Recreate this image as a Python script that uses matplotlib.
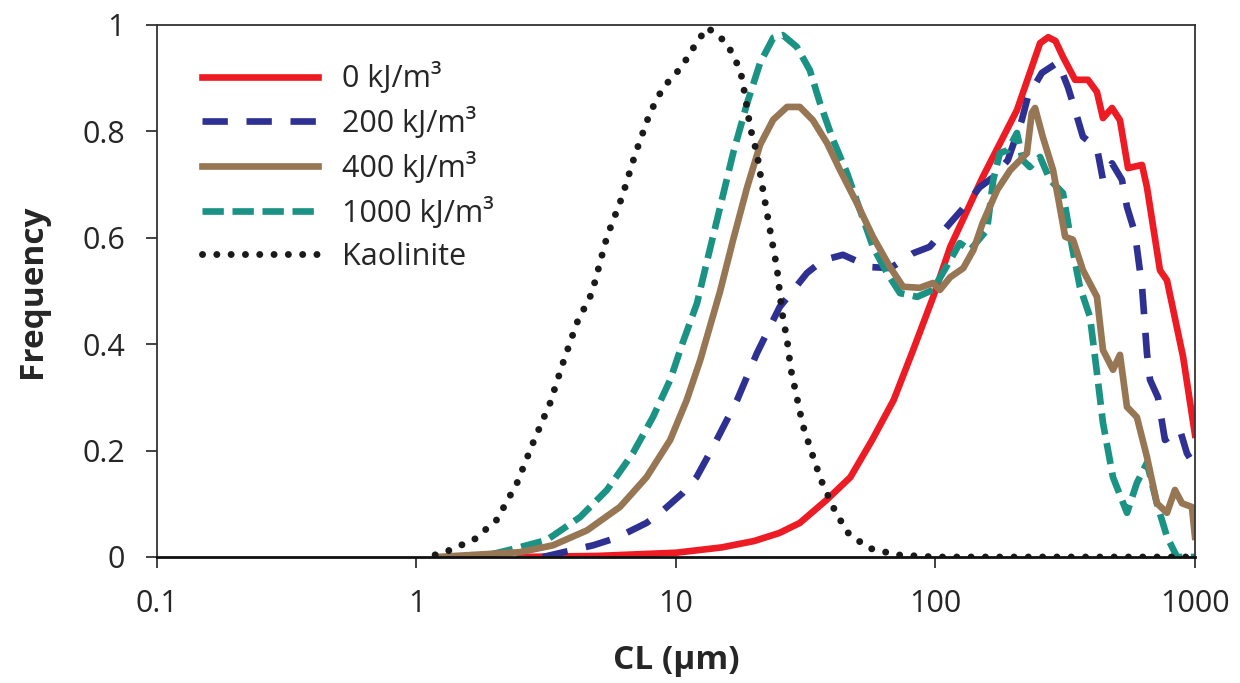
import numpy as np
import matplotlib
matplotlib.use("Agg")
import matplotlib.pyplot as plt
from matplotlib.ticker import FixedLocator, FixedFormatter, NullLocator

plt.rcParams["font.family"] = ["Open Sans", "DejaVu Sans"]

# ---------------- Data ----------------
red_x = [2.5, 5, 10, 15, 20, 25, 30, 38, 47, 57, 69, 82, 98, 114, 152, 206, 253, 272, 290,
         310, 345, 387, 419, 442, 479, 514, 552, 625, 653, 733, 780, 900, 1000]
red_y = [0.0, 0.002, 0.008, 0.018, 0.03, 0.045, 0.064, 0.107, 0.15, 0.22, 0.295, 0.389, 0.489,
         0.583, 0.714, 0.84, 0.966, 0.977, 0.97, 0.94, 0.897, 0.897, 0.874, 0.825, 0.844,
         0.821, 0.731, 0.737, 0.695, 0.539, 0.52, 0.376, 0.23]

blue_x = [3.07, 4.8, 5.9, 7.7, 8.7, 10.6, 12, 13.9, 17.2, 20.5, 25.1, 27, 32, 36.9, 44, 56,
          67, 82, 95, 114, 126, 148, 167, 190, 215, 227, 257, 297, 324, 345, 370, 419, 442,
          479, 523, 547, 587, 625, 653, 671, 720, 766, 875, 931, 1000]
blue_y = [0.0, 0.022, 0.036, 0.064, 0.083, 0.12, 0.15, 0.207, 0.295, 0.383, 0.47, 0.489,
          0.534, 0.558, 0.568, 0.545, 0.543, 0.571, 0.583, 0.628, 0.652, 0.695, 0.714, 0.746,
          0.821, 0.865, 0.91, 0.93, 0.883, 0.84, 0.79, 0.769, 0.709, 0.74, 0.709, 0.658,
          0.609, 0.508, 0.383, 0.333, 0.30, 0.22, 0.239, 0.195, 0.17]

brown_x = [1.2, 2.5, 3.36, 4.54, 6.08, 7.7, 9.5, 11, 12.4, 14.8, 16.6, 18.8, 21.1, 23.7,
           26.8, 30, 33.7, 38.2, 42.9, 49.8, 57.4, 66.8, 75, 87, 97.7, 104, 114, 128, 140,
           152, 173, 194, 225, 235, 242, 259, 284, 316, 339, 370, 419, 442, 483, 514, 547,
           597, 653, 713, 780, 837, 891, 973, 1000]
brown_y = [0.0, 0.009, 0.022, 0.05, 0.094, 0.15, 0.22, 0.295, 0.37, 0.5, 0.596, 0.695,
           0.775, 0.822, 0.846, 0.846, 0.821, 0.778, 0.727, 0.665, 0.602, 0.545, 0.508,
           0.506, 0.515, 0.502, 0.526, 0.543, 0.577, 0.628, 0.69, 0.727, 0.759, 0.835,
           0.844, 0.79, 0.727, 0.602, 0.596, 0.539, 0.489, 0.389, 0.352, 0.38, 0.282,
           0.263, 0.188, 0.101, 0.083, 0.126, 0.101, 0.094, 0.038]

teal_x = [1.5, 1.87, 2.36, 3.18, 4.27, 5.42, 6.82, 8.15, 9.5, 10.6, 12.05, 13.2, 14.8, 16.6,
          18.8, 21.1, 23.7, 25.8, 29.2, 32.8, 35.9, 40.3, 45.6, 51.2, 57.4, 65, 73, 85,
          97.7, 114, 124, 136, 158, 167, 177, 190, 206, 217, 231, 253, 276, 310, 336, 360,
          394, 419, 442, 483, 547, 597, 653, 713, 780, 853, 1000]
teal_y = [0.0, 0.003, 0.015, 0.032, 0.075, 0.126, 0.195, 0.263, 0.333, 0.402, 0.477, 0.558,
          0.658, 0.759, 0.853, 0.929, 0.976, 0.981, 0.959, 0.915, 0.853, 0.784, 0.722, 0.652,
          0.583, 0.534, 0.496, 0.489, 0.502, 0.558, 0.59, 0.577, 0.615, 0.709, 0.759, 0.765,
          0.797, 0.746, 0.733, 0.752, 0.709, 0.684, 0.583, 0.508, 0.451, 0.346, 0.252, 0.15,
          0.083, 0.139, 0.177, 0.101, 0.038, 0.0, 0.0]

kaol_x = [1.18, 1.35, 1.68, 2.04, 2.44, 2.81, 3.27, 3.67, 4.15, 4.74, 5.42, 6.2, 6.95, 7.94,
          8.91, 10.5, 12.05, 13.2, 14.1, 15.7, 17.7, 18.5, 19.3, 20.5, 21.4, 22.4, 23.4,
          24.5, 25.6, 26.8, 27.7, 29.2, 30.8, 33.4, 36.2, 40.3, 45.6, 55, 71, 100, 1000]
kaol_y = [0.004, 0.013, 0.034, 0.07, 0.139, 0.214, 0.289, 0.365, 0.44, 0.496, 0.602, 0.677,
          0.756, 0.835, 0.882, 0.921, 0.968, 0.995, 0.985, 0.966, 0.915, 0.865, 0.808, 0.759,
          0.703, 0.648, 0.596, 0.543, 0.461, 0.408, 0.353, 0.301, 0.248, 0.195, 0.145, 0.094,
          0.047, 0.017, 0.004, 0.0, 0.0]

labels = ["0 kJ/m³", "200 kJ/m³", "400 kJ/m³", "1000 kJ/m³", "Kaolinite"]
x_ticks = [0.1, 1, 10, 100, 1000]
x_ticklabels = ["0.1", "1", "10", "100", "1000"]
y_ticks = [0, 0.2, 0.4, 0.6, 0.8, 1]
y_ticklabels = ["0", "0.2", "0.4", "0.6", "0.8", "1"]

# ---------------- Figure ----------------
fig = plt.figure(figsize=(12.4, 6.83), dpi=100)
ax = fig.add_axes([0.1266, 0.1845, 0.8371, 0.7789])

LW = 4.8
ax.plot(red_x, red_y, color="#ED1C24", lw=LW, solid_joinstyle="round", label=labels[0])
ax.plot(blue_x, blue_y, color="#2E3192", lw=LW, linestyle=(0, (3.8, 2.8)), label=labels[1])
ax.plot(teal_x, teal_y, color="#1A9385", lw=LW, linestyle=(0, (3.2, 1.3)), label=labels[3])
ax.plot(brown_x, brown_y, color="#977654", lw=LW, solid_joinstyle="round", label=labels[2])
ax.plot(kaol_x, kaol_y, color="#1a1a1a", lw=5.0, linestyle=(0, (0.01, 2.05)),
        dash_capstyle="round", label=labels[4])

ax.set_xscale("log")
ax.set_xlim(0.1, 1000)
ax.set_ylim(0, 1)
ax.xaxis.set_major_locator(FixedLocator(x_ticks))
ax.xaxis.set_major_formatter(FixedFormatter(x_ticklabels))
ax.xaxis.set_minor_locator(NullLocator())
ax.yaxis.set_major_locator(FixedLocator(y_ticks))
ax.yaxis.set_major_formatter(FixedFormatter(y_ticklabels))

ax.tick_params(axis="both", direction="out", length=8, width=1.3, color="#333333",
               labelsize=22, labelcolor="#262626", pad=15)
for side in ["left", "top", "right"]:
    ax.spines[side].set_color("#333333")
    ax.spines[side].set_linewidth(1.3)
ax.spines["bottom"].set_color("#111111")
ax.spines["bottom"].set_linewidth(2.0)

ax.set_xlabel("CL (μm)", fontsize=24, fontweight="bold", color="#262626", labelpad=18)
ax.set_ylabel("Frequency", fontsize=24, fontweight="bold", color="#262626", labelpad=24)

handles, labs = ax.get_legend_handles_labels()
order = [labs.index(l) for l in labels]
ax.legend([handles[i] for i in order], [labs[i] for i in order],
          loc="upper left", bbox_to_anchor=(0.043, 0.93), frameon=False,
          fontsize=22, handlelength=3.8, handletextpad=0.8, labelspacing=0.42,
          borderpad=0, borderaxespad=0, labelcolor="#262626")

fig.savefig("out.png", dpi=100)
